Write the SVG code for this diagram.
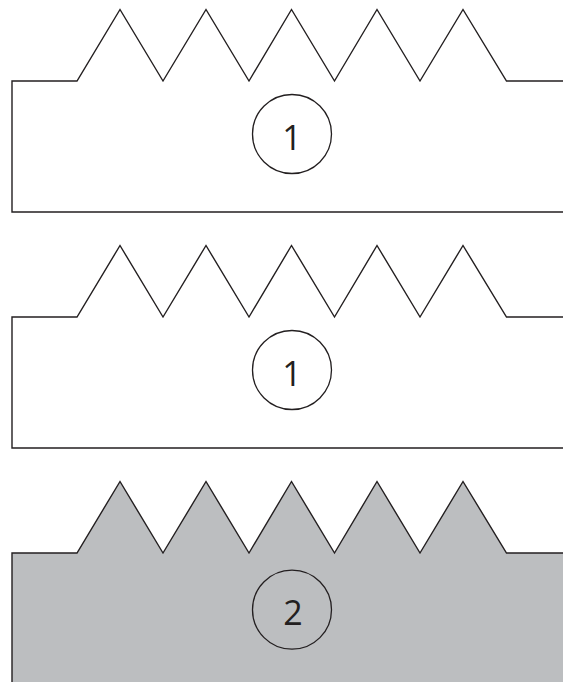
<svg xmlns="http://www.w3.org/2000/svg" xmlns:xlink="http://www.w3.org/1999/xlink" width="563" height="682" viewBox="0 0 563 682">
  <style>
    .edge { fill: none; stroke: #231f20; stroke-width: 1.4; stroke-linejoin: miter; }
    .badge { fill: none; stroke: #231f20; stroke-width: 1.3; }
    .num { font-family: "Open Sans", "Liberation Sans", sans-serif; font-size: 34px; fill: #231f20; text-anchor: middle; }
  </style>
  <rect width="563" height="682" fill="#ffffff"/>
  <g id="shape1">
    <polyline class="edge" points="563,81 506.5,81 463,9.5 420,81 377,9.5 334.5,81 291.5,9.5 249,81 206,9.5 163,81 120,9.5 77,81 12,81 12,212 563,212"/>
    <circle class="badge" cx="292" cy="134" r="39.5"/>
    <text class="num" x="292" y="149.7">1</text>
  </g>
  <g id="shape2">
    <polyline class="edge" points="563,317 506.5,317 463,245.5 420,317 377,245.5 334.5,317 291.5,245.5 249,317 206,245.5 163,317 120,245.5 77,317 12,317 12,448 563,448"/>
    <circle class="badge" cx="292" cy="370" r="39.5"/>
    <text class="num" x="292" y="385.7">1</text>
  </g>
  <g id="shape3">
    <polygon fill="#bcbec0" points="563,553 506.5,553 463,481.5 420,553 377,481.5 334.5,553 291.5,481.5 249,553 206,481.5 163,553 120,481.5 77,553 12,553 12,682 563,682"/>
    <polyline class="edge" points="563,553 506.5,553 463,481.5 420,553 377,481.5 334.5,553 291.5,481.5 249,553 206,481.5 163,553 120,481.5 77,553 12,553 12,683"/>
    <circle class="badge" cx="292" cy="609.7" r="39.5"/>
    <text class="num" x="293" y="624.7">2</text>
  </g>
</svg>
